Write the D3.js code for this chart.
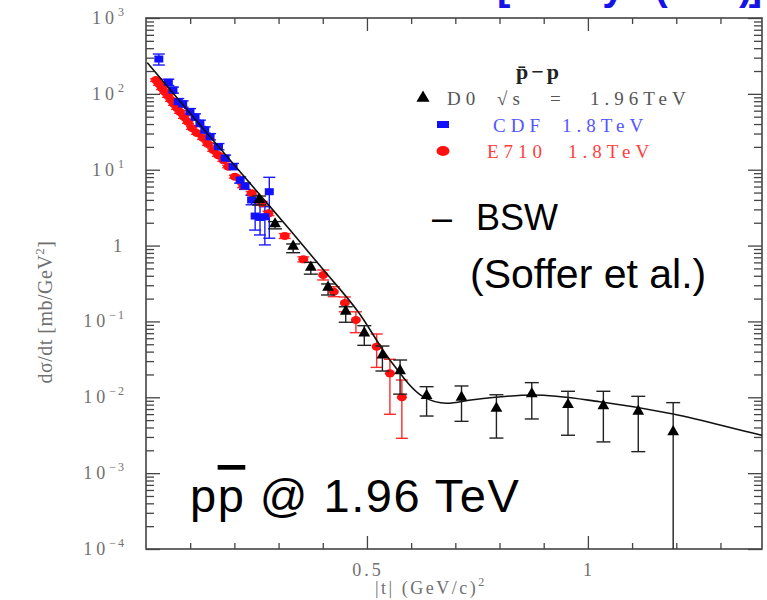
<!DOCTYPE html>
<html>
<head>
<meta charset="utf-8">
<script src="https://cdn.jsdelivr.net/npm/d3@7"></script>
<style>
  body { margin: 0; background: #fff; }
  svg { display: block; }
</style>
</head>
<body>
<svg id="chart" width="767" height="600"></svg>
<script>
// D0 sqrt(s) = 1.96 TeV : |t| (GeV^2), dsigma/dt (mb/GeV^2), error bar ends
const d0_t = [0.256, 0.292, 0.333, 0.373, 0.412, 0.452, 0.494, 0.535, 0.575, 0.635, 0.714, 0.793, 0.873, 0.955, 1.035, 1.114, 1.193];
const d0_val = [3.91, 1.87, 0.95, 0.50, 0.273, 0.132, 0.0683, 0.035, 0.0217, 0.0102, 0.0097, 0.00695, 0.0108, 0.00774, 0.0075, 0.00634, 0.00341];
const d0_hi = [4.5, 2.07, 1.05, 0.60, 0.312, 0.156, 0.0879, 0.0474, 0.031, 0.0138, 0.0141, 0.0108, 0.0156, 0.012, 0.012, 0.0103, 0.0085];
const d0_lo = [3.43, 1.66, 0.805, 0.42, 0.223, 0.0975, 0.0484, 0.0222, 0.011, 0.00566, 0.00482, 0.0029, 0.00518, 0.00316, 0.00258, 0.00192, 0.00001];

// CDF 1.8 TeV
const cdf_t = [0.029, 0.0505, 0.061, 0.073, 0.083, 0.0995, 0.111, 0.122, 0.133, 0.145, 0.164, 0.179, 0.197, 0.213, 0.224, 0.239, 0.247, 0.258, 0.269, 0.279];
const cdf_val = [288, 142, 112, 78.8, 73.5, 58.2, 49.5, 40.9, 33.4, 27.2, 20.1, 14.2, 11.0, 7.32, 6.1, 3.99, 2.45, 2.35, 2.4, 5.13];
const cdf_hi = [335, 156, 123, 86.7, 80.9, 64, 54.5, 45, 36.7, 29.9, 22.1, 15.6, 12.1, 8.05, 6.7, 4.6, 3.79, 3.64, 3.26, 7.94];
const cdf_lo = [240, 129, 102, 71.6, 66.8, 52.9, 45, 37.2, 30.4, 24.7, 18.3, 12.9, 10, 6.65, 5.5, 3.45, 1.60, 1.38, 1.02, 1.25];

// E710 1.8 TeV
const e710_t = [0.0226, 0.0294, 0.0362, 0.043, 0.0498, 0.0566, 0.0633, 0.0701, 0.0769, 0.086, 0.095, 0.104, 0.115, 0.129, 0.140, 0.152, 0.163, 0.175, 0.186, 0.201, 0.220, 0.239, 0.262, 0.277, 0.314, 0.356, 0.401, 0.425, 0.450, 0.475, 0.522, 0.552, 0.579];
const e710_val = [152, 135, 119, 106, 93.7, 83, 73.5, 65.1, 57.7, 49.5, 42.6, 35.5, 30.5, 26.2, 21.8, 18.2, 15.6, 13.4, 11.0, 8.09, 6.10, 4.89, 3.61, 2.66, 1.34, 0.659, 0.409, 0.246, 0.175, 0.1045, 0.0465, 0.0207, 0.0100];
const e710_hi = [158, 140, 124, 110, 97.5, 86.3, 76.4, 67.7, 60, 51.5, 44.3, 36.9, 31.7, 27.2, 22.7, 18.9, 16.2, 13.9, 11.4, 8.45, 6.4, 5.15, 3.82, 2.84, 1.44, 0.71, 0.476, 0.287, 0.21, 0.134, 0.0683, 0.0317, 0.0169];
const e710_lo = [146, 130, 114, 102, 90, 79.7, 70.6, 62.5, 55.4, 47.5, 40.9, 34.1, 29.3, 25.2, 20.9, 17.5, 15, 12.9, 10.6, 7.75, 5.8, 4.63, 3.4, 2.48, 1.24, 0.61, 0.352, 0.212, 0.134, 0.0711, 0.0248, 0.00597, 0.00288];

// BSW model curve (Soffer et al.)
const bsw_t = [0.003, 0.145, 0.258, 0.326, 0.40, 0.48, 0.552, 0.627, 0.680, 0.74, 0.876, 1.027, 1.193, 1.382, 1.394];
const bsw_val = [258, 27.2, 4.65, 1.60, 0.49, 0.134, 0.031, 0.0102, 0.00834, 0.0093, 0.0107, 0.00875, 0.00603, 0.00328, 0.00316];

const x_major = [0.5, 1];
const x_minor = [0.1, 0.2, 0.3, 0.4, 0.6, 0.7, 0.8, 0.9, 1.1, 1.2, 1.3];
const y_decades = [-4, -3, -2, -1, 0, 1, 2, 3];

const svg = d3.select('#chart');
const frame_l = 146, frame_r = 762, frame_t = 18, frame_b = 549;

const x = d3.scaleLinear().domain([0, 1.394]).range([frame_l, frame_r]);
const y = d3.scaleLog().domain([1e-4, 1e3]).range([frame_b, frame_t]);

const y_major = y_decades.map(k => Math.pow(10, k));
const y_minor = [];
y_decades.slice(0, -1).forEach(k => {
  for (let m = 2; m <= 9; m++) y_minor.push(m * Math.pow(10, k));
});

const tick_color = '#444';
const label_color = '#707070';
const serif = '"Liberation Serif", "DejaVu Serif", serif';
const sans = '"Liberation Sans", Arial, sans-serif';

// reference line at the very top, cut by the page edge as in the source slide
svg.append('text')
  .attr('x', 497).attr('y', 0)
  .attr('textLength', 265)
  .attr('lengthAdjust', 'spacing')
  .style('font-family', sans).style('font-size', '40px').style('font-weight', 'bold')
  .style('fill', '#1414e6')
  .text('[D0 Phys. (2012)]');

// ticks, all pointing inward
const draw_axis = function (axis, transform) {
  const g = svg.append('g').attr('transform', transform).call(axis);
  g.select('.domain').remove();
  g.selectAll('line').attr('stroke', tick_color).attr('stroke-width', 1.3);
  g.selectAll('text').remove();
};
draw_axis(d3.axisBottom(x).tickValues(x_minor).tickSize(-6), `translate(0,${frame_b})`);
draw_axis(d3.axisBottom(x).tickValues(x_major).tickSize(-13), `translate(0,${frame_b})`);
draw_axis(d3.axisTop(x).tickValues(x_minor).tickSize(-6), `translate(0,${frame_t})`);
draw_axis(d3.axisTop(x).tickValues(x_major).tickSize(-13), `translate(0,${frame_t})`);
draw_axis(d3.axisLeft(y).tickValues(y_minor).tickSize(-8), `translate(${frame_l},0)`);
draw_axis(d3.axisLeft(y).tickValues(y_major).tickSize(-14), `translate(${frame_l},0)`);
draw_axis(d3.axisRight(y).tickValues(y_minor).tickSize(-8), `translate(${frame_r},0)`);
draw_axis(d3.axisRight(y).tickValues(y_major).tickSize(-14), `translate(${frame_r},0)`);

svg.append('rect')
  .attr('x', frame_l).attr('y', frame_t)
  .attr('width', frame_r - frame_l).attr('height', frame_b - frame_t)
  .attr('fill', 'none').attr('stroke', tick_color).attr('stroke-width', 1.6);

// y tick labels 10^k
const ylab = svg.append('g')
  .style('font-family', serif).style('fill', label_color);
y_decades.forEach(k => {
  const t = ylab.append('text')
    .attr('x', 126).attr('y', y(Math.pow(10, k)) + 6)
    .attr('text-anchor', 'end')
    .style('font-size', '18px').style('letter-spacing', '4px');
  if (k === 0) { t.text('1'); return; }
  t.append('tspan').text('10');
  t.append('tspan').attr('dy', -8).style('font-size', '12px').style('letter-spacing', '2px')
    .text(k < 0 ? '\u2212' + (-k) : String(k));
});

// x tick labels
svg.append('g').style('font-family', serif).style('fill', label_color)
  .style('font-size', '18px').style('letter-spacing', '3px')
  .selectAll('text').data(x_major).join('text')
  .attr('x', d => x(d) + 1).attr('y', 576)
  .attr('text-anchor', 'middle')
  .text(d => d === 1 ? '1' : '0.5');

// axis titles
const xt = svg.append('text')
  .attr('x', 375).attr('y', 594)
  .style('font-family', serif).style('fill', label_color)
  .style('font-size', '18px').style('letter-spacing', '2.5px');
xt.append('tspan').text('|t| (GeV/c)');
xt.append('tspan').attr('dy', -8).style('font-size', '12px').text('2');

const yt = svg.append('text')
  .attr('transform', 'translate(52,312) rotate(-90)')
  .attr('text-anchor', 'middle')
  .style('font-family', serif).style('fill', label_color)
  .style('font-size', '20px').style('letter-spacing', '0.5px');
yt.append('tspan').text('d\u03c3/dt [mb/GeV');
yt.append('tspan').attr('dy', -8).style('font-size', '13px').text('2');
yt.append('tspan').attr('dy', 8).text(']');

// plot contents, clipped to the frame
svg.append('clipPath').attr('id', 'plot-clip')
  .append('rect').attr('x', frame_l).attr('y', frame_t)
  .attr('width', frame_r - frame_l).attr('height', frame_b - frame_t);
const plot = svg.append('g').attr('clip-path', 'url(#plot-clip)');

const draw_errors = function (ts, hi, lo, color, cap) {
  const g = plot.append('g').attr('stroke', color).attr('stroke-width', 1.4);
  ts.forEach((t, i) => {
    const cx = x(t);
    g.append('line').attr('x1', cx).attr('x2', cx).attr('y1', y(hi[i])).attr('y2', y(lo[i]));
    g.append('line').attr('x1', cx - cap).attr('x2', cx + cap).attr('y1', y(hi[i])).attr('y2', y(hi[i]));
    g.append('line').attr('x1', cx - cap).attr('x2', cx + cap).attr('y1', y(lo[i])).attr('y2', y(lo[i]));
  });
};

draw_errors(e710_t, e710_hi, e710_lo, '#ff2a2a', 6);
draw_errors(cdf_t, cdf_hi, cdf_lo, '#1a1aff', 6);

plot.append('g').selectAll('ellipse')
  .data(e710_t).join('ellipse')
  .attr('cx', d => x(d)).attr('cy', (d, i) => y(e710_val[i]))
  .attr('rx', 5).attr('ry', 4)
  .attr('fill', '#ff1010');

plot.append('g').selectAll('rect')
  .data(cdf_t).join('rect')
  .attr('x', d => x(d) - 4.5).attr('y', (d, i) => y(cdf_val[i]) - 3.5)
  .attr('width', 9).attr('height', 7)
  .attr('fill', '#1010ff');

const bsw_line = d3.line()
  .x(d => x(d[0])).y(d => y(d[1]))
  .curve(d3.curveMonotoneX);
plot.append('path')
  .datum(bsw_t.map((t, i) => [t, bsw_val[i]]))
  .attr('d', bsw_line)
  .attr('fill', 'none').attr('stroke', '#111').attr('stroke-width', 1.6);

draw_errors(d0_t, d0_hi, d0_lo, '#222', 7);
const tri = d3.symbol().type(d3.symbolTriangle).size(60);
plot.append('g').selectAll('path')
  .data(d0_t).join('path')
  .attr('transform', (d, i) => `translate(${x(d)},${y(d0_val[i]) - 1})`)
  .attr('d', tri)
  .attr('fill', '#000');

// legend
const leg = svg.append('g').style('font-family', serif).style('font-size', '19px');
leg.append('text')
  .attr('x', 516).attr('y', 79)
  .style('font-size', '22px')
  .style('font-weight', 'bold').style('fill', '#222').style('letter-spacing', '3px')
  .text('p\u0304\u2212p');

leg.append('path').attr('transform', 'translate(423,98)')
  .attr('d', d3.symbol().type(d3.symbolTriangle).size(75)).attr('fill', '#000');
const d0_text = leg.append('text').attr('y', 105)
  .style('fill', '#555').style('letter-spacing', '5px');
d0_text.append('tspan').attr('x', 447).text('D0');
d0_text.append('tspan').attr('x', 497).text('\u221as');
d0_text.append('tspan').attr('x', 550).text('=');
d0_text.append('tspan').attr('x', 590).text('1.96TeV');

leg.append('rect').attr('x', 437).attr('y', 121).attr('width', 12).attr('height', 7).attr('fill', '#1010ff');
const cdf_text = leg.append('text').attr('y', 132)
  .style('fill', '#5555ff').style('letter-spacing', '5px');
cdf_text.append('tspan').attr('x', 493).text('CDF');
cdf_text.append('tspan').attr('x', 562).text('1.8TeV');

leg.append('ellipse').attr('cx', 443).attr('cy', 151).attr('rx', 6.5).attr('ry', 5).attr('fill', '#ff1010');
const e710_text = leg.append('text').attr('y', 158)
  .style('fill', '#ff4040').style('letter-spacing', '5px');
e710_text.append('tspan').attr('x', 487).text('E710');
e710_text.append('tspan').attr('x', 568).text('1.8TeV');

// annotations
const notes = svg.append('g').style('font-family', sans).style('fill', '#000');
const bsw_note = notes.append('text').attr('y', 230).style('font-size', '36px');
bsw_note.append('tspan').attr('x', 432).text('\u2013');
bsw_note.append('tspan').attr('x', 476).text('BSW');
notes.append('text').attr('x', 470).attr('y', 288).style('font-size', '41px').text('(Soffer et al.)');
const pp_note = notes.append('text').attr('x', 190).attr('y', 512)
  .style('font-size', '47px').style('letter-spacing', '1.5px');
pp_note.append('tspan').text('p');
pp_note.append('tspan').style('text-decoration', 'overline').text('p');
pp_note.append('tspan').text(' @ 1.96 TeV');
</script>
</body>
</html>
